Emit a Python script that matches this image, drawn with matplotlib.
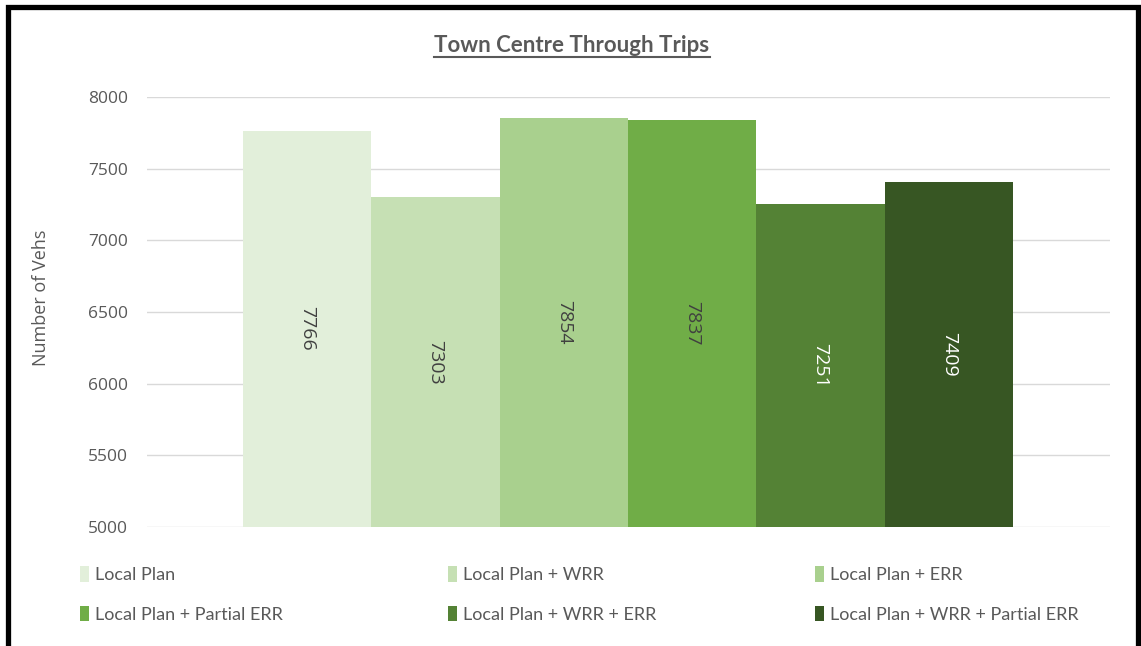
import matplotlib
matplotlib.use("Agg")
import matplotlib.pyplot as plt
from matplotlib.patches import Patch, Rectangle
from matplotlib.lines import Line2D

# ============================================================
#  Data
# ============================================================

SCENARIOS = [
    "Local Plan",
    "Local Plan + WRR",
    "Local Plan + ERR",
    "Local Plan + Partial ERR",
    "Local Plan + WRR + ERR",
    "Local Plan + WRR + Partial ERR",
]
TRIPS = [7766, 7303, 7854, 7837, 7251, 7409]

COLOURS = ["#E2EFDA", "#C6E0B4", "#A9D08E", "#70AD47", "#548235", "#375623"]
LABEL_COLOURS = ["#404040", "#404040", "#404040", "#404040", "#FFFFFF", "#FFFFFF"]

Y_TICKS = [5000, 5500, 6000, 6500, 7000, 7500, 8000]

TEXT_GREY = "#595959"
GRID_GREY = "#D9D9D9"

W, H = 1141, 646

# ============================================================
#  Plot
# ============================================================

fig = plt.figure(figsize=(W / 100, H / 100), dpi=100)
ax = fig.add_axes([147 / W, 1 - 527 / H, (1110 - 147) / W, (527 - 97) / H])

xs = list(range(len(TRIPS)))
bars = ax.bar(xs, [t - 5000 for t in TRIPS], bottom=5000, width=1.0,
              color=COLOURS, edgecolor="none", zorder=2)

for b, val, c in zip(bars, TRIPS, LABEL_COLOURS):
    ax.text(b.get_x() + b.get_width() / 2, (5000 + val) / 2, f"{val}",
            rotation=270, ha="center", va="center", fontsize=14,
            color=c, family="Open Sans", zorder=3)

ax.set_ylim(5000, 8000)
ax.set_xlim(-0.5 - 96 / 128.3, 5.5 + 97 / 128.3)
ax.set_yticks(Y_TICKS)
ax.set_xticks([])
ax.tick_params(axis="y", length=0, pad=13.5, labelsize=12.5, labelcolor=TEXT_GREY)
for lbl in ax.get_yticklabels():
    lbl.set_family("Open Sans")
ax.grid(axis="y", color=GRID_GREY, linewidth=1.0, zorder=0)
for s in ax.spines.values():
    s.set_visible(False)

fig.text(41 / W, 1 - 298 / H, "Number of Vehs", rotation=90, ha="center",
         va="center", fontsize=13, color=TEXT_GREY, family="Open Sans")

# Title with underline
title = fig.text(572 / W, 1 - 45 / H, "Town Centre Through Trips", ha="center",
                 va="center", fontsize=16, fontweight="bold", color=TEXT_GREY,
                 family="Lato")
fig.canvas.draw()
tb = title.get_window_extent().transformed(fig.transFigure.inverted())
uy = tb.y0 - 1.5 / H
fig.add_artist(Line2D([tb.x0, tb.x1], [uy, uy], color=TEXT_GREY, linewidth=1.5,
                      transform=fig.transFigure))

# Legend: three columns, filled row-wise
handles = [Patch(facecolor=c, edgecolor="none") for c in COLOURS]
col_x = [80 / W, 448 / W, 815 / W]
for j, x in enumerate(col_x):
    leg = fig.legend([handles[j], handles[j + 3]], [SCENARIOS[j], SCENARIOS[j + 3]],
                     loc="upper left", bbox_to_anchor=(x, 1 - 566 / H),
                     frameon=False, fontsize=13, handlelength=0.5,
                     handleheight=0.95, handletextpad=0.35, labelspacing=1.25,
                     borderaxespad=0, borderpad=0)
    for t in leg.get_texts():
        t.set_color(TEXT_GREY)
        t.set_family("Lato")

# Black frame round the chart
fig.patches.append(Rectangle((7.5 / W, -0.05), (1138 - 7.5) / W, 1.05 - 7.5 / H,
                             transform=fig.transFigure, fill=False,
                             edgecolor="black", linewidth=3.8, clip_on=False))

fig.savefig("out.png", dpi=100)
